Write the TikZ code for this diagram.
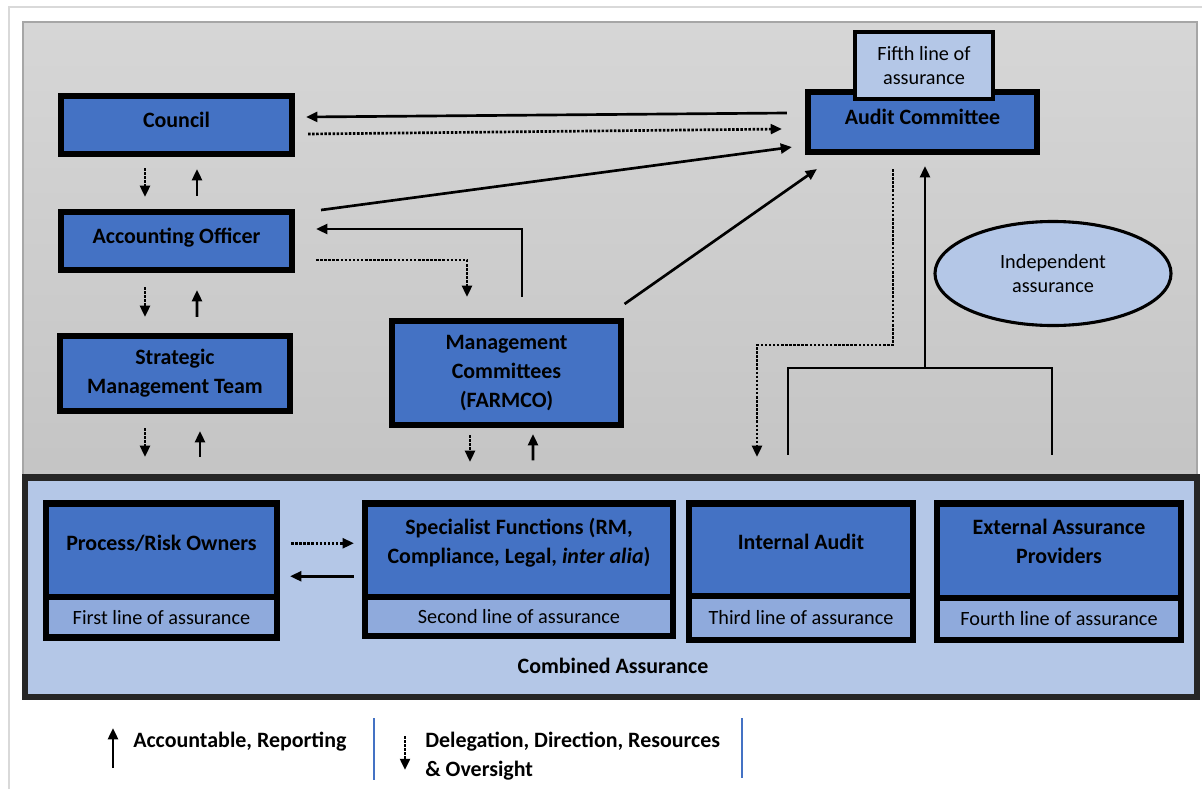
\documentclass[tikz,border=0pt]{standalone}
\usepackage{fontspec}
\setmainfont{Carlito}
\usepackage{tikz}
\usetikzlibrary{shapes.geometric,arrows.meta,positioning,calc}
\definecolor{boxblue}{HTML}{4472C4}
\definecolor{paleblue}{HTML}{B4C7E7}
\definecolor{stripblue}{HTML}{8FAADC}
\definecolor{bandedge}{HTML}{262626}
\definecolor{framegray}{HTML}{D9D9D9}
\newcommand{\boldfont}{\fontsize{15.6}{20.6}\selectfont\bfseries}
\newcommand{\plainfont}{\fontsize{14.4}{17.7}\selectfont}
\tikzstyle{box} = [rectangle, draw=black, line width=4.3pt, fill=boxblue, align=center, font=\boldfont, inner sep=2pt]
\tikzstyle{upper} = [box, text height=11pt, text depth=8pt]
\tikzstyle{lower} = [box, text height=11pt, text depth=11pt]
\tikzstyle{lowertwo} = [box, text depth=14pt]
\tikzstyle{strip} = [rectangle, draw=black, line width=4.3pt, fill=stripblue, font=\plainfont, inner sep=2pt]
\tikzstyle{band} = [rectangle, draw=bandedge, line width=4.3pt, fill=paleblue, inner sep=0pt]
\tikzstyle{boldtext} = [font=\boldfont, inner sep=0pt]
\tikzstyle{report} = [line width=1.9pt,->]
\tikzstyle{delegate} = [line width=1.9pt,->,dash pattern=on 1.8pt off 1.1pt]
\tikzstyle{sepline} = [line width=0.8pt, draw=boxblue]

\begin{document}
\begin{tikzpicture}[x=0.025cm, y=-0.025cm, >={Stealth[length=8pt,width=7pt,inset=0pt]}]
\useasboundingbox (0,0) rectangle (1202,789);
\fill[white] (0,0) rectangle (1202,789);
\draw[framegray, line width=0.8pt] (9,789) -- (9,7) -- (1202,7);

% upper panel and combined assurance band
\shade[top color=black!16, bottom color=black!23] (23,22) rectangle (1197,477);
\draw[black!35, line width=0.8pt] (23,477) -- (23,22) -- (1197,22) -- (1197,477);
\node[band, minimum width=29.3cm, minimum height=5.475cm] (comb) at (611,587) {};
\node[boldtext] (combtext) at (613,666) {Combined Assurance};

% management side
\node[upper, minimum width=5.775cm, minimum height=1.45cm] (council) at (176.5,125) {Council};
\node[upper, minimum width=5.775cm, minimum height=1.45cm] (accoff) at (176.5,241) {Accounting Officer};
\node[box, minimum width=5.75cm, minimum height=1.875cm] (smt) at (175,373.5) {Strategic\\Management Team};
\node[box, minimum width=5.725cm, minimum height=2.6cm] (mc) at (506.5,373) {Management\\Committees\\(FARMCO)};

% audit committee
\node[upper, minimum width=5.725cm, minimum height=1.5cm] (audit) at (922.5,122) {Audit Committee};
\node[rectangle, draw=black, line width=3pt, fill=paleblue, font=\plainfont, align=center, minimum width=3.45cm, minimum height=1.675cm] (fifth) at (924,65.5) {Fifth line of\\assurance};
\node[ellipse, draw=black, line width=2.2pt, fill=paleblue, font=\plainfont, align=center, minimum width=5.9cm, minimum height=2.6cm] (indep) at (1053,273.5) {Independent\\assurance};

% lines of assurance
\node[lower, minimum width=5.775cm, minimum height=2.3375cm] (pro) at (161.5,550.25) {Process/Risk Owners};
\node[strip, minimum width=5.775cm, minimum height=1.0125cm] (prostrip) at (161.5,617.25) {First line of assurance};
\node[lowertwo, minimum width=7.7cm, minimum height=2.3375cm] (spec) at (519,550.25) {Specialist Functions (RM,\\Compliance, Legal, {\itshape inter alia})};
\node[strip, minimum width=7.7cm, minimum height=0.975cm] (specstrip) at (519,616.5) {Second line of assurance};
\node[lower, minimum width=5.6cm, minimum height=2.305cm] (ia) at (801,549.6) {Internal Audit};
\node[strip, minimum width=5.6cm, minimum height=1.1075cm] (iastrip) at (801,617.85) {Third line of assurance};
\node[lowertwo, minimum width=6.1cm, minimum height=2.3625cm] (ea) at (1059,550.75) {External Assurance\\Providers};
\node[strip, minimum width=6.1cm, minimum height=1.05cm] (eastrip) at (1059,619) {Fourth line of assurance};

% connectors
\draw[report] ($(audit.west)+(-18,-9)$) -- ($(council.east)+(11,-8)$);
\draw[delegate] ($(council.east)+(13,9)$) -- ($(audit.west)+(-23,7)$);
\draw[report] ($(accoff.east)+(26,-31)$) -- ($(audit.south west)+(-13,-8)$);
\draw[report] ($(mc.north)+(15.5,-21)$) |- ($(accoff.east)+(21,-12)$);
\draw[delegate] ($(accoff.east)+(21,19)$) -| ($(mc.north)+(-39.5,-21)$);
\draw[report] ($(mc.north east)+(0.5,-14)$) -- ($(audit.south west)+(12,14)$);
\draw[delegate] ($(audit.south)+(-29.5,14)$) -- ++(0,176) -| ($(ia.north)+(-44,-43.5)$);
\coordinate (join) at ($(audit.south)+(2.5,213)$);
\draw[line width=1.9pt] ($(ia.north)+(-13,-45.5)$) |- (join) -| ($(ea.north)+(-7,-45.5)$);
\draw[report] (join) -- ($(audit.south)+(2.5,11)$);

\draw[delegate] ($(council.south)+(-31.5,11)$) -- ($(accoff.north)+(-31.5,-12)$);
\draw[report] ($(accoff.north)+(20.5,-13)$) -- ($(council.south)+(20.5,12)$);
\draw[delegate] ($(accoff.south)+(-31.5,14)$) -- ($(smt.north)+(-30,-16)$);
\draw[report] ($(smt.north)+(22,-16)$) -- ($(accoff.south)+(20.5,17)$);
\draw[delegate] ($(smt.south)+(-30,14)$) -- ($(comb.north)+(-466,-17.5)$);
\draw[report] ($(comb.north)+(-411,-17.5)$) -- ($(smt.south)+(25,17)$);
\draw[delegate] ($(mc.south)+(-36.5,7)$) -- ($(comb.north)+(-141,-12.5)$);
\draw[report] ($(comb.north)+(-78,-14)$) -- ($(mc.south)+(26.5,6)$);
\draw[delegate] ($(pro.east)+(11,-7)$) -- ($(spec.west)+(-8,-7)$);
\draw[report] ($(spec.west)+(-8,26)$) -- ($(pro.east)+(10,26)$);

% legend
\node[boldtext, anchor=west] (legrep) at (133,742) {Accountable, Reporting};
\node[boldtext, anchor=west, align=left] (legdel) at (425,756) {Delegation, Direction, Resources\\\& Oversight};
\draw[report] ($(legrep.west)+(-20,26)$) -- ($(legrep.west)+(-20,-14)$);
\draw[delegate] ($(legdel.west)+(-20,-20)$) -- ($(legdel.west)+(-20,14)$);
\draw[sepline] ($(legdel.west)+(-51,-38)$) -- ($(legdel.west)+(-51,24)$);
\draw[sepline] ($(legdel.west)+(317,-38)$) -- ($(legdel.west)+(317,22)$);
\end{tikzpicture}
\end{document}
